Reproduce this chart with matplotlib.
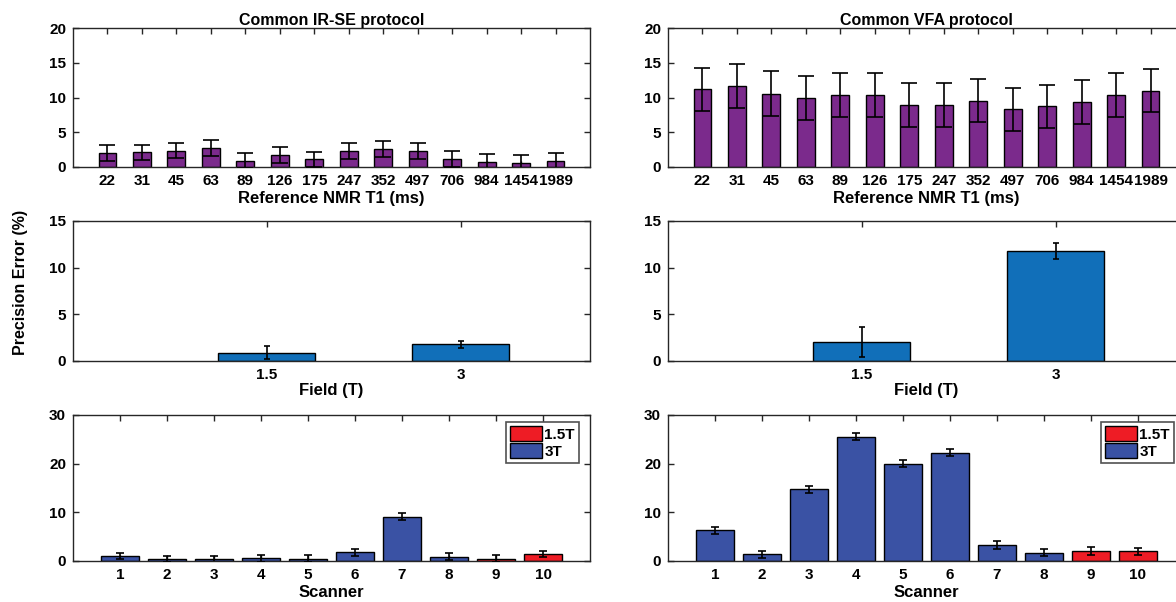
import numpy as np
import matplotlib
matplotlib.use("Agg")
import matplotlib.pyplot as plt
from matplotlib.patches import Patch

# ========== data ==========
t1_labels = ["22", "31", "45", "63", "89", "126", "175", "247", "352",
             "497", "706", "984", "1454", "1989"]

irse_t1_mean = [2.05, 2.1, 2.35, 2.75, 0.9, 1.7, 1.1, 2.3, 2.55, 2.3, 1.15, 0.67, 0.57, 0.81]
irse_t1_err = [1.15, 1.1, 1.1, 1.15, 1.1, 1.15, 1.1, 1.1, 1.15, 1.1, 1.15, 1.15, 1.15, 1.15]

vfa_t1_mean = [11.2, 11.6, 10.55, 9.9, 10.4, 10.35, 8.95, 8.9, 9.55, 8.3, 8.75, 9.4, 10.4, 11.0]
vfa_t1_err = [3.1, 3.15, 3.2, 3.15, 3.15, 3.15, 3.15, 3.15, 3.1, 3.1, 3.1, 3.15, 3.15, 3.1]

field_vals = [1.5, 3]
field_labels = ["1.5", "3"]
irse_field_mean = [0.88, 1.78]
irse_field_err = [0.7, 0.35]
vfa_field_mean = [2.04, 11.8]
vfa_field_err = [1.65, 0.85]

scanners = list(range(1, 11))
scanner_field = ["3T"] * 8 + ["1.5T"] * 2
irse_scan_mean = [1.03, 0.4, 0.35, 0.55, 0.48, 1.78, 9.08, 0.89, 0.48, 1.37]
irse_scan_err = [0.7, 0.7, 0.7, 0.7, 0.7, 0.72, 0.72, 0.7, 0.7, 0.6]
vfa_scan_mean = [6.3, 1.37, 14.73, 25.55, 20.0, 22.26, 3.29, 1.71, 2.05, 1.99]
vfa_scan_err = [0.75, 0.72, 0.75, 0.75, 0.75, 0.75, 0.75, 0.75, 0.75, 0.75]

# ========== style ==========
plt.rcParams['font.family'] = ['Liberation Sans', 'DejaVu Sans']
plt.rcParams['font.weight'] = 'bold'
plt.rcParams['axes.labelweight'] = 'bold'
plt.rcParams['axes.titleweight'] = 'bold'

purple = '#7b2a8c'
mid_blue = '#116fb9'
dark_blue = '#3a52a4'
red = '#ee1c25'
field_colors = {"1.5T": red, "3T": dark_blue}
spine_col = '#262626'

W, H = 1176, 602
fig = plt.figure(figsize=(W / 100, H / 100), dpi=100)


def add_ax(x0, y_top, x1, y_bot):
    # pixel box -> figure fraction
    return fig.add_axes([x0 / W, (H - y_bot) / H, (x1 - x0) / W, (y_bot - y_top) / H])


def style(ax, yticks):
    ax.set_yticks(yticks)
    ax.set_ylim(yticks[0], yticks[-1])
    for s in ax.spines.values():
        s.set_linewidth(1.0)
        s.set_color(spine_col)
    ax.tick_params(axis='both', direction='in', length=4, width=1, color=spine_col,
                   top=True, right=True, labelsize=11, pad=5)
    for lab in ax.get_xticklabels() + ax.get_yticklabels():
        lab.set_fontweight('bold')


lefts = [73, 668]
right_w = 517

# --- row 1: per reference T1 ---
for col, (mean, err, title) in enumerate([(irse_t1_mean, irse_t1_err, "Common IR-SE protocol"),
                                          (vfa_t1_mean, vfa_t1_err, "Common VFA protocol")]):
    ax = add_ax(lefts[col], 28, lefts[col] + right_w, 167)
    x = np.arange(1, len(t1_labels) + 1)
    ax.bar(x, mean, width=0.52, color=purple, edgecolor='black', linewidth=1, zorder=2)
    ax.errorbar(x, mean, yerr=err, fmt='none', ecolor='black', elinewidth=1.2,
                capsize=5.5, capthick=1.2, zorder=3)
    ax.set_xlim(0, 15)
    ax.set_xticks(x)
    ax.set_xticklabels(t1_labels)
    style(ax, [0, 5, 10, 15, 20])
    ax.set_title(title, fontsize=11.5, pad=2)
    ax.set_xlabel("Reference NMR T1 (ms)", fontsize=12, labelpad=2)

# --- row 2: per field strength ---
for col, (mean, err) in enumerate([(irse_field_mean, irse_field_err),
                                   (vfa_field_mean, vfa_field_err)]):
    ax = add_ax(lefts[col], 221, lefts[col] + right_w, 361)
    ax.bar(field_vals, mean, width=0.75, color=mid_blue, edgecolor='black', linewidth=1, zorder=2)
    ax.errorbar(field_vals, mean, yerr=err, fmt='none', ecolor='black', elinewidth=1.2,
                capsize=2, capthick=1.2, zorder=3)
    ax.set_xlim(0, 4)
    ax.set_xticks(field_vals)
    ax.set_xticklabels(field_labels)
    style(ax, [0, 5, 10, 15])
    ax.set_xlabel("Field (T)", fontsize=12, labelpad=1)

# --- row 3: per scanner ---
for col, (mean, err) in enumerate([(irse_scan_mean, irse_scan_err),
                                   (vfa_scan_mean, vfa_scan_err)]):
    ax = add_ax(lefts[col], 415, lefts[col] + right_w, 561)
    cols = [field_colors[f] for f in scanner_field]
    ax.bar(scanners, mean, width=0.8, color=cols, edgecolor='black', linewidth=1, zorder=2)
    ax.errorbar(scanners, mean, yerr=err, fmt='none', ecolor='black', elinewidth=1.2,
                capsize=3, capthick=1.2, zorder=3)
    ax.set_xlim(0, 11)
    ax.set_xticks(scanners)
    style(ax, [0, 10, 20, 30])
    ax.set_xlabel("Scanner", fontsize=12, labelpad=2)
    handles = [Patch(facecolor=field_colors[k], edgecolor='black', linewidth=1, label=k)
               for k in ["1.5T", "3T"]]
    leg = ax.legend(handles=handles, loc='upper right', bbox_to_anchor=(0.978, 0.95),
                    fontsize=11, frameon=True, fancybox=False, handlelength=2.1,
                    handleheight=1.1, handletextpad=0.15, borderpad=0.25,
                    labelspacing=0.1, borderaxespad=0)
    leg.get_frame().set_edgecolor(spine_col)
    leg.get_frame().set_linewidth(1.2)
    for t in leg.get_texts():
        t.set_fontweight('bold')

fig.text(20 / W, 1 - 282 / H, "Precision Error (%)", rotation=90, va='center', ha='center',
         fontsize=11.5, fontweight='bold')

plt.savefig("out.png", dpi=100, bbox_inches=None)
plt.close()
